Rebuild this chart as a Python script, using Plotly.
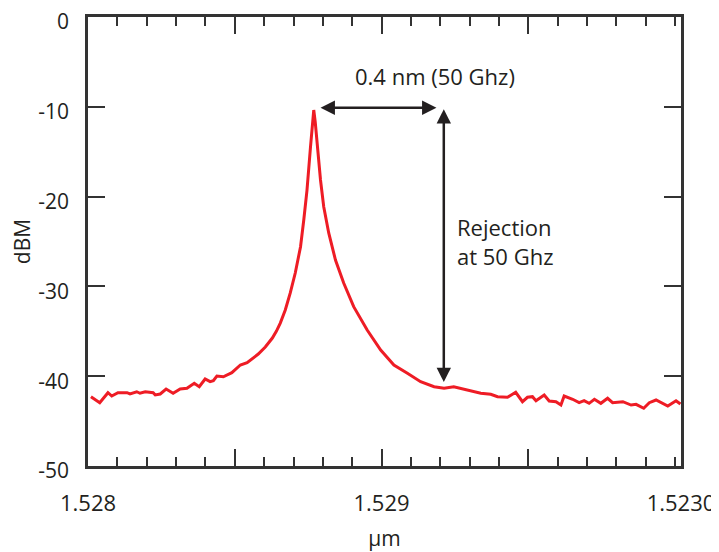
import plotly.graph_objects as go

# ---- data ----
wavelength_um = [
    1.52801, 1.52804, 1.528068, 1.528081, 1.528102, 1.528133, 1.528143, 1.528166,
    1.528177, 1.528195, 1.528222, 1.528229, 1.528246, 1.528266, 1.528290, 1.528314,
    1.528337, 1.528362, 1.528379, 1.528399, 1.528416, 1.528427, 1.528439, 1.528461,
    1.528490, 1.528519, 1.528542, 1.528553, 1.528580, 1.528604, 1.528628, 1.528642,
    1.528655, 1.528672, 1.528689, 1.528706, 1.528724, 1.528735, 1.528746, 1.528758,
    1.528764, 1.528769, 1.528774, 1.528781, 1.528792, 1.528803, 1.528820, 1.528843,
    1.528871, 1.528905, 1.528951, 1.528997, 1.529042, 1.529088, 1.529133, 1.529179,
    1.529213, 1.529246, 1.529292, 1.529338, 1.529372, 1.529395, 1.529429, 1.529457,
    1.529480, 1.529497, 1.529514, 1.529526, 1.529554, 1.529571, 1.529594, 1.529611,
    1.529622, 1.529651, 1.529673, 1.529690, 1.529707, 1.529725, 1.529747, 1.529770,
    1.529787, 1.529822, 1.529850, 1.529867, 1.529893, 1.529912, 1.529935, 1.529952,
    1.529975, 1.530003, 1.530018,
]
power_dbm = [
    -42.28, -42.95, -41.84, -42.21, -41.84, -41.84, -41.98, -41.73,
    -41.90, -41.73, -41.84, -42.09, -41.98, -41.43, -41.90, -41.43,
    -41.35, -40.79, -41.17, -40.31, -40.61, -40.50, -39.98, -40.06,
    -39.61, -38.75, -38.50, -38.20, -37.53, -36.75, -35.75, -34.97,
    -34.08, -32.63, -30.73, -28.51, -25.58, -22.61, -19.27, -14.44,
    -11.69, -10.36, -11.69, -14.44, -18.15, -21.12, -24.05, -27.06,
    -29.62, -32.26, -34.86, -37.08, -38.75, -39.68, -40.61, -41.17,
    -41.35, -41.17, -41.54, -41.90, -42.01, -42.28, -42.35, -41.79,
    -42.84, -42.35, -42.28, -42.73, -42.09, -42.76, -42.84, -43.21,
    -42.21, -42.57, -42.95, -42.73, -43.02, -42.57, -43.02, -42.46,
    -42.95, -42.84, -43.21, -43.13, -43.57, -42.95, -42.65, -42.95,
    -43.32, -42.73, -43.10,
]

x_range = [1.528, 1.53002]
y_range = [-50, 0]
x_tick_vals = [1.528, 1.5285, 1.529, 1.5295, 1.53002]
x_tick_text = ["1.528", "", "1.529", "", "1.5230"]
y_tick_vals = [0, -10, -20, -30, -40, -50]
y_tick_text = ["0", "-10", "-20", "-30", "-40", "-50"]

spacing_label = "0.4 nm (50 Ghz)"
rejection_label = "Rejection<br>at 50 Ghz"
arrow_start_um = 1.528787
channel_spacing_um = 0.0004
rejection_x_um = 1.529212
top_level_dbm = -10.1
rejection_level_dbm = -40.65

FONT = "Open Sans, DejaVu Sans, sans-serif"
TXT = "#231f20"
AX = "#333333"

fig = go.Figure()
fig.add_trace(go.Scatter(
    x=wavelength_um, y=power_dbm, mode="lines",
    line=dict(color="#ee1c25", width=3), showlegend=False,
))

arrow_style = dict(
    axref="x", ayref="y", xref="x", yref="y", text="", showarrow=True,
    arrowhead=2, startarrowhead=2, arrowside="end+start",
    arrowwidth=2.5, arrowsize=1.15, startarrowsize=1.15, arrowcolor="#231f20",
)
# horizontal double arrow (0.4 nm)
fig.add_annotation(
    x=arrow_start_um + channel_spacing_um, y=top_level_dbm,
    ax=arrow_start_um, ay=top_level_dbm, **arrow_style,
)
# vertical double arrow (rejection)
fig.add_annotation(
    x=rejection_x_um, y=rejection_level_dbm,
    ax=rejection_x_um, ay=top_level_dbm, **arrow_style,
)
fig.add_annotation(
    x=arrow_start_um + channel_spacing_um * 0.99, y=-6.6, xref="x", yref="y",
    text=spacing_label, showarrow=False, xanchor="center", yanchor="middle",
    font=dict(family=FONT, size=22, color=TXT),
)
fig.add_annotation(
    x=1.529249, y=-25.0, xref="x", yref="y",
    text=rejection_label, showarrow=False, xanchor="left", yanchor="middle",
    align="left", font=dict(family=FONT, size=22, color=TXT),
)

fig.update_layout(
    width=719, height=552,
    margin=dict(l=80, r=46, t=9, b=94),
    paper_bgcolor="white", plot_bgcolor="white",
    font=dict(family=FONT, size=22, color=TXT),
    xaxis=dict(
        range=x_range, tickmode="array", tickvals=x_tick_vals, ticktext=x_tick_text,
        ticks="inside", ticklen=17, tickwidth=2, tickcolor=AX,
        minor=dict(tickmode="linear", tick0=1.528, dtick=0.0001, ticks="inside",
                   ticklen=9, tickwidth=2, tickcolor=AX),
        showline=True, linecolor=AX, linewidth=2.5, mirror="ticks",
        showgrid=False, zeroline=False, automargin=False,
        ticklabeloverflow="allow",
        tickfont=dict(family=FONT, size=22, color=TXT),
        ticklabelstandoff=16,
        title=dict(text="μm", font=dict(family=FONT, size=21, color=TXT), standoff=16),
    ),
    yaxis=dict(
        range=y_range, tickmode="array", tickvals=y_tick_vals, ticktext=y_tick_text,
        ticks="inside", ticklen=17, tickwidth=2, tickcolor=AX,
        showline=True, linecolor=AX, linewidth=2.5, mirror="ticks",
        showgrid=False, zeroline=False, automargin=False,
        ticklabeloverflow="allow", ticklabelshift=5,
        tickfont=dict(family=FONT, size=21, color=TXT),
        ticklabelstandoff=12,
        title=dict(text="dBM", font=dict(family=FONT, size=21, color=TXT), standoff=8),
    ),
)

fig.write_html("out.html")
